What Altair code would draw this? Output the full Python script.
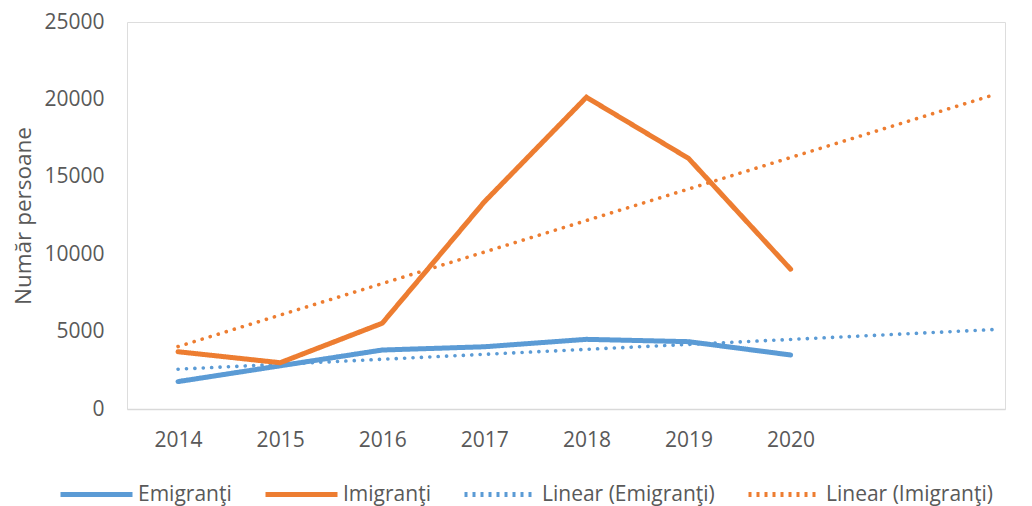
import altair as alt
import pandas as pd

years = [2014, 2015, 2016, 2017, 2018, 2019, 2020]
emigranti = [1770, 2790, 3810, 4020, 4500, 4350, 3490]
imigranti = [3700, 2990, 5540, 13380, 20140, 16190, 9030]
series_names = ["Emigranţi", "Imigranţi"]
legend_labels = ["Emigranţi", "Imigranţi", "Linear (Emigranţi)", "Linear (Imigranţi)"]
y_ticks = [0, 5000, 10000, 15000, 20000, 25000]

rows = []
for name, vals in zip(series_names, [emigranti, imigranti]):
    for yr, v in zip(years, vals):
        rows.append({"year": yr, "value": v, "series": name})
df = pd.DataFrame(rows)

BLUE = "#5b9bd5"
ORANGE = "#ed7d31"
GRAY = "#595959"
FONT = "Open Sans"

color_scale = alt.Scale(domain=legend_labels, range=[BLUE, ORANGE, BLUE, ORANGE])
dash_scale = alt.Scale(domain=legend_labels, range=[[1, 0], [1, 0], [3, 5], [3, 5]])
width_scale = alt.Scale(domain=legend_labels, range=[5, 5, 3.2, 3.2])

legend = alt.Legend(
    title=None, orient="none", direction="horizontal", legendX=-69, legendY=434,
    symbolType="stroke", symbolSize=5184, labelFont=FONT, labelFontSize=21,
    labelColor=GRAY, labelLimit=0, columnPadding=23, labelOffset=3, gridAlign="none",
)

x_enc = alt.X("year:Q", scale=alt.Scale(domain=[2013.5, 2022.1], nice=False, zero=False),
              axis=alt.Axis(values=years, format="d", title=None, grid=False, ticks=False,
                            domainColor="#d9d9d9", domainWidth=1.5, labelPadding=20,
                            labelFont=FONT, labelFontSize=21, labelColor=GRAY))
y_enc = alt.Y("value:Q", scale=alt.Scale(domain=[0, 25000], nice=False),
              axis=alt.Axis(values=y_ticks, format="d", title="Număr persoane", grid=False,
                            ticks=False, domain=False, labelPadding=23, labelFont=FONT,
                            labelFontSize=21, labelColor=GRAY, titleFont=FONT, titleFontSize=22.5,
                            titleFontWeight="normal", titleColor=GRAY, titlePadding=8))

lines = alt.Chart(df).transform_calculate(label="datum.series").mark_line(
    strokeCap="round", strokeJoin="miter"
).encode(
    x=x_enc, y=y_enc,
    color=alt.Color("label:N", scale=color_scale, legend=legend),
    strokeDash=alt.StrokeDash("label:N", scale=dash_scale, legend=legend),
    strokeWidth=alt.StrokeWidth("label:N", scale=width_scale, legend=legend),
)

trend = alt.Chart(df).transform_regression(
    "year", "value", groupby=["series"], extent=[2014, 2022]
).transform_calculate(label="'Linear (' + datum.series + ')'").mark_line(
    strokeCap="round", strokeDash=[0.1, 8.3], strokeWidth=3.6
).encode(
    x=x_enc, y=y_enc,
    color=alt.Color("label:N", scale=color_scale, legend=legend),
)

chart = alt.layer(trend, lines).properties(
    width=878, height=387,
    autosize=alt.AutoSizeParams(type="none"),
    padding={"left": 119, "top": 14, "right": 19, "bottom": 97},
).configure_view(stroke=None).configure(background="white")

chart.save("out.html", embed_options={"renderer": "svg", "actions": False})
